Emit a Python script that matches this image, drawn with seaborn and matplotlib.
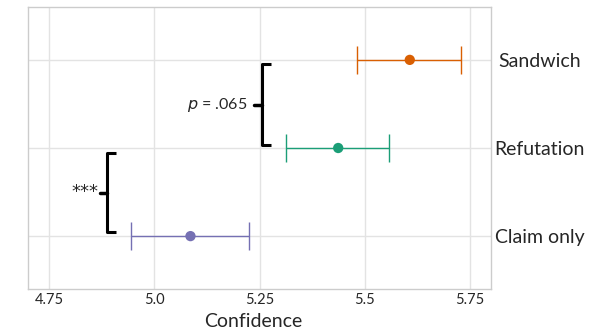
import matplotlib
matplotlib.use("Agg")
import matplotlib.pyplot as plt
import seaborn as sns
import pandas as pd

conditions = ["Sandwich", "Refutation", "Claim only"]
means = [5.607, 5.437, 5.086]
lower = [5.482, 5.314, 4.944]
upper = [5.729, 5.558, 5.226]
colors = ["#d95f02", "#1b9e77", "#7570b3"]
x_ticks = [4.75, 5.0, 5.25, 5.5, 5.75]
x_tick_labels = ["4.75", "5.0", "5.25", "5.5", "5.75"]

sns.set_theme(style="white")
plt.rcParams["font.family"] = ["Lato", "DejaVu Sans"]

df = pd.DataFrame({"condition": conditions, "mean": means, "lower": lower, "upper": upper})
df["ypos"] = [2, 1, 0]

fig = plt.figure(figsize=(6.04, 3.33), dpi=100)
ax = fig.add_axes([28/604, 1 - 289/333, (491-28)/604, (289-7)/333])

for i, row in df.iterrows():
    ax.errorbar(row["mean"], row["ypos"],
                xerr=[[row["mean"] - row["lower"]], [row["upper"] - row["mean"]]],
                fmt="none", ecolor=colors[i], elinewidth=1.0, capsize=10, capthick=1.0, zorder=2)
sns.scatterplot(data=df, x="mean", y="ypos", hue="condition", palette=colors,
                s=55, edgecolor="none", legend=False, ax=ax, zorder=3)

ax.set_xlim(4.70, 5.80)
ax.set_ylim(-0.6, 2.6)
ax.set_xticks(x_ticks)
ax.set_xticklabels(x_tick_labels, fontsize=10.5)
ax.set_yticks(df["ypos"])
ax.set_yticklabels(conditions, fontsize=14, ha="center")
ax.yaxis.tick_right()
ax.tick_params(axis="both", length=0, pad=3)
ax.tick_params(axis="y", pad=35)
ax.grid(True, color="#e3e3e3", linewidth=1.0)
ax.set_axisbelow(True)
for sp in ax.spines.values():
    sp.set_color("#cccccc")
    sp.set_linewidth(1.0)
ax.set_xlabel("Confidence", fontsize=14)
ax.xaxis.set_label_coords(0.487, -0.085, transform=ax.transAxes)
ax.xaxis.label.set_va("top")
ax.set_ylabel("")

def bracket(x, y0, y1, arm, tick):
    ax.plot([x + arm, x, x, x + arm], [y0, y0, y1, y1], color="black", lw=2.2,
            solid_joinstyle="round", solid_capstyle="butt", clip_on=False, zorder=4)
    ym = (y0 + y1) / 2
    ax.plot([x - tick, x], [ym, ym], color="black", lw=2.5, clip_on=False, zorder=4)

bracket(5.256, 1.03, 1.95, 0.022, 0.018)
ax.text(5.222, 1.49, r"$\it{p}$ = .065", ha="right", va="center", fontsize=11.5)
bracket(4.888, 0.05, 0.94, 0.022, 0.018)
ax.text(4.868, 0.50, "***", ha="right", va="center", fontsize=13,
        family=["DejaVu Sans"])

fig.savefig("out.png", dpi=100)
